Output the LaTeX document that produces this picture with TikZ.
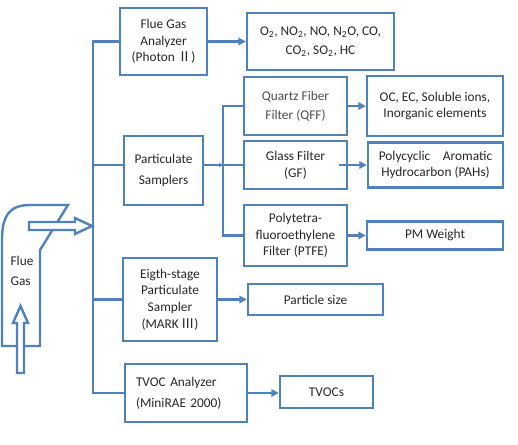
\documentclass[tikz,border=0pt]{standalone}
\usepackage{fontspec}
\setmainfont{Carlito}
\newfontfamily\cjk{Noto Sans CJK SC}
\usepackage{xcolor}
\usepackage{tikz}
\usetikzlibrary{arrows.meta, positioning, calc}
\definecolor{boxblue}{RGB}{79,129,189}

\begin{document}
\begin{tikzpicture}[x=0.75pt, y=-0.75pt, font=\fontsize{10}{12.5}\selectfont,
    box/.style={draw=boxblue, line width=1.8pt, align=center, inner sep=1pt, text=black!85},
    wh/.style 2 args={minimum width=#1*0.75pt, minimum height=#2*0.75pt},
    line/.style={draw=boxblue, line width=1.8pt},
    arr/.style={line, -{Triangle[length=5.5pt,width=5.5pt]}}]
  \useasboundingbox (0,0) rectangle (518,444);

  \node[box, wh={87}{67}] (fga) at (163.5,41.5) {Flue Gas\\Analyzer\\(Photon {\cjk Ⅱ})};
  \node[box, wh={147}{57}] (gas) at (320.5,41.5) {O\textsubscript{2}, NO\textsubscript{2}, NO, N\textsubscript{2}O, CO,\\[2pt]CO\textsubscript{2}, SO\textsubscript{2}, HC};
  \node[box, wh={79}{69}] (ps) at (163.5,170.5) {Particulate\\[3pt]Samplers};
  \node[box, wh={103}{58}, text=black!70] (qff) at (295.5,106) {Quartz Fiber\\[2pt]Filter (QFF)};
  \node[box, wh={136}{60}] (ocec) at (435,106) {OC, EC, Soluble ions,\\Inorganic elements};
  \node[box, wh={103}{48}] (gf) at (295.5,165) {Glass Filter\\(GF)};
  \node[box, wh={135}{45}] (pah) at (435.5,165) {\hbox to 85pt{Polycyclic\hfill Aromatic}\\Hydrocarbon (PAHs)};
  \node[box, wh={103}{61}] (ptfe) at (295.5,235.5) {Polytetra-\\fluoroethylene\\Filter (PTFE)};
  \node[box, wh={136}{28}] (pmw) at (435,235.5) {PM Weight};
  \node[box, wh={94}{83}] (mark) at (170,299.5) {Eigth-stage\\Particulate\\Sampler\\(MARK\,{\cjk Ⅲ})};
  \node[box, wh={135}{31}] (psize) at (315.5,299.5) {Particle size};
  \node[box, text width=75pt, inner xsep=8.25pt, minimum height=58*0.75pt, align=left] (tvoc) at (186,393) {TVOC Analyzer\\[3pt](MiniRAE 2000)};
  \node[box, wh={93}{32}] (tvocs) at (326.5,392) {TVOCs};
  \node[align=left, text=black!85] (fg) at (22,271) {Flue\\[2pt]Gas};

  \coordinate (tbot) at (93,393);
  \coordinate (jps) at (93,165);
  \coordinate (sbot) at (223,235.5);
  \coordinate (sgf) at (223,165);

  \draw[line] (fga.west) -| (tbot) -- (tvoc.west);
  \draw[line] (jps) -- (jps -| ps.west);
  \draw[line] (mark.west) -- (mark.west -| tbot);
  \draw[line] (qff.west) -| (sbot) -- (ptfe.west);
  \draw[line] (sgf) -- (gf.west);
  \draw[arr, -{Triangle[length=3pt,width=3pt]}] (ps.east |- sgf) -- (sgf);

  \draw[arr] (fga.east) -- (gas.west);
  \draw[arr] (qff.east) -- (ocec.west);
  \draw[arr] ([xshift=-6.75pt]gf.east) -- (gf.east -| pah.west);
  \draw[arr] (ptfe.east) -- (ptfe.east -| pmw.west);
  \draw[arr] (mark.east) -- (mark.east -| psize.west);
  \draw[arr] (tvoc.east) -- (tvoc.east -| tvocs.west);

  % duct
  \draw[line] (40,250) -- (40,346) -- (2,346) -- (2,240)
    .. controls (2,215) and (10,205) .. (30,205) -- (68,205) -- cycle;
  \draw[line, fill=white] (29,222) -- (75,222) -- (75,218) -- (92,226)
    -- (75,234) -- (75,230) -- (29,230) -- cycle;
  \draw[line, fill=white] (17,373) -- (17,323) -- (13,323) -- (20.5,306)
    -- (28,323) -- (24,323) -- (24,373) -- cycle;
\end{tikzpicture}
\end{document}
